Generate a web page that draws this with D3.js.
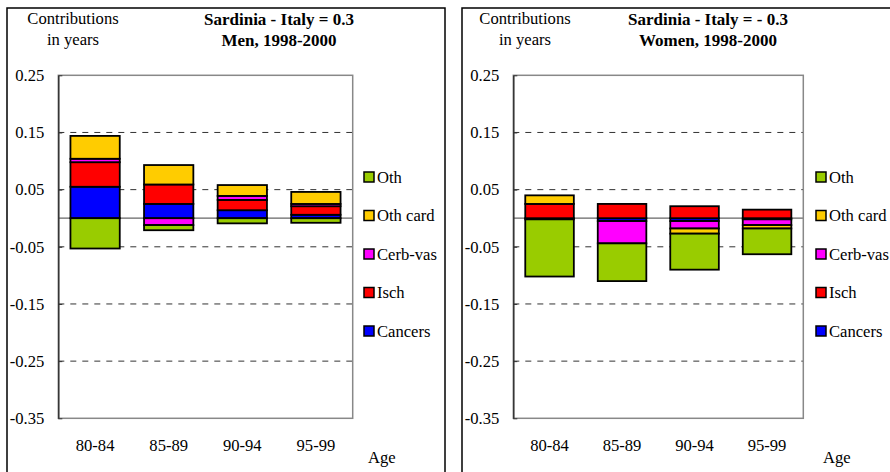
<!DOCTYPE html>
<html>
<head>
<meta charset="utf-8">
<script src="https://cdn.jsdelivr.net/npm/d3@7"></script>
<style>
  body { margin: 0; background: #fff; }
  svg text { font-family: "Liberation Serif", "Times New Roman", Times, "DejaVu Serif", serif !important; fill: #000; }
</style>
</head>
<body>
<div id="chart"></div>
<script>
const ages = ["80-84", "85-89", "90-94", "95-99"];
const causes = ["Cancers", "Isch", "Cerb-vas", "Oth card", "Oth"];
const legendOrder = ["Oth", "Oth card", "Cerb-vas", "Isch", "Cancers"];
const yTicks = [0.25, 0.15, 0.05, -0.05, -0.15, -0.25, -0.35];
const gridValues = [0.15, 0.05, -0.05, -0.15, -0.25];

// men, 1998-2000
const menCancers = [0.055, 0.025, 0.014, 0.006];
const menIsch = [0.043, 0.034, 0.018, 0.015];
const menCerbVas = [0.006, -0.012, 0.007, 0.004];
const menOthCard = [0.040, 0.034, 0.019, 0.021];
const menOth = [-0.053, -0.009, -0.009, -0.008];

// women, 1998-2000
const womenCancers = [-0.002, -0.005, -0.005, -0.002];
const womenIsch = [0.025, 0.025, 0.021, 0.015];
const womenCerbVas = [0, -0.039, -0.013, -0.010];
const womenOthCard = [0.015, 0, -0.009, -0.006];
const womenOth = [-0.100, -0.066, -0.063, -0.045];

const colors = {
  "Cancers": "#0000ff",
  "Isch": "#ff0000",
  "Cerb-vas": "#ff00ff",
  "Oth card": "#ffcc00",
  "Oth": "#99cc00"
};

function makeRows(c, i, cv, oc, o) {
  return ages.map((age, k) => ({
    age: age,
    "Cancers": c[k], "Isch": i[k], "Cerb-vas": cv[k], "Oth card": oc[k], "Oth": o[k]
  }));
}

const panels = [
  {
    rows: makeRows(menCancers, menIsch, menCerbVas, menOthCard, menOth),
    left: 7, plotX: [58.3, 352.7], contribX: 73, titleX: 279,
    title: ["Sardinia - Italy = 0.3", "Men, 1998-2000"],
    legendX: 364, ageX: 368
  },
  {
    rows: makeRows(womenCancers, womenIsch, womenCerbVas, womenOthCard, womenOth),
    left: 462, plotX: [513.3, 803.3], contribX: 525, titleX: 708,
    title: ["Sardinia - Italy = - 0.3", "Women, 1998-2000"],
    legendX: 816, ageX: 823
  }
];

const width = 890, height = 472;
const plotTop = 75.3, plotBottom = 418.3;
const fs = 16.6;

const svg = d3.select("#chart").append("svg")
  .attr("width", width)
  .attr("height", height);

svg.append("rect").attr("width", width).attr("height", height).attr("fill", "#fff");

const y = d3.scaleLinear().domain([-0.35, 0.25]).range([plotBottom, plotTop]);
const fmt = v => d3.format(".2f")(v).replace("\u2212", "-");

panels.forEach(p => {
  const g = svg.append("g");

  // outer frame (runs past the picture edge)
  g.append("rect")
    .attr("x", p.left).attr("y", 8)
    .attr("width", 438).attr("height", 500)
    .attr("fill", "none").attr("stroke", "#000").attr("stroke-width", 1.5);

  const x = d3.scaleBand().domain(ages).range(p.plotX)
    .paddingInner(0.33).paddingOuter(0.165);

  // headings
  g.append("text").attr("x", p.contribX).attr("y", 24)
    .attr("text-anchor", "middle").attr("font-size", fs).text("Contributions");
  g.append("text").attr("x", p.contribX).attr("y", 45)
    .attr("text-anchor", "middle").attr("font-size", fs).text("in years");
  g.append("text").attr("x", p.titleX).attr("y", 25)
    .attr("text-anchor", "middle").attr("font-size", 17).attr("font-weight", "bold").text(p.title[0]);
  g.append("text").attr("x", p.titleX).attr("y", 46)
    .attr("text-anchor", "middle").attr("font-size", 17).attr("font-weight", "bold").text(p.title[1]);

  // dashed grid
  g.selectAll(".grid").data(gridValues).enter().append("line")
    .attr("x1", p.plotX[0]).attr("x2", p.plotX[1])
    .attr("y1", d => y(d)).attr("y2", d => y(d))
    .attr("stroke", "#333").attr("stroke-width", 1)
    .attr("stroke-dasharray", "6,6");

  // zero line
  g.append("line")
    .attr("x1", p.plotX[0]).attr("x2", p.plotX[1])
    .attr("y1", y(0)).attr("y2", y(0))
    .attr("stroke", "#666").attr("stroke-width", 1.2);

  // stacked bars
  const series = d3.stack().keys(causes).offset(d3.stackOffsetDiverging)(p.rows);
  g.selectAll(".series").data(series).enter().append("g")
    .attr("fill", d => colors[d.key])
    .selectAll("rect")
    .data(d => d.filter(s => s[1] !== s[0]))
    .enter().append("rect")
    .attr("x", d => x(d.data.age))
    .attr("width", x.bandwidth())
    .attr("y", d => y(d[1]))
    .attr("height", d => y(d[0]) - y(d[1]))
    .attr("stroke", "#000").attr("stroke-width", 1.8);

  // plot frame
  g.append("rect")
    .attr("x", p.plotX[0]).attr("y", plotTop)
    .attr("width", p.plotX[1] - p.plotX[0]).attr("height", plotBottom - plotTop)
    .attr("fill", "none").attr("stroke", "#888").attr("stroke-width", 1.5);

  // y axis
  const ya = g.append("g")
    .attr("transform", `translate(${p.plotX[0]},0)`)
    .call(d3.axisLeft(y).tickValues(yTicks).tickFormat(fmt)
      .tickSizeInner(-4).tickSizeOuter(0).tickPadding(14));
  ya.select(".domain").attr("stroke", "#333").attr("stroke-width", 1.5);
  ya.selectAll(".tick line").attr("stroke", "#333");
  ya.selectAll(".tick text").attr("font-size", fs);

  // x axis labels
  const xa = g.append("g")
    .attr("transform", `translate(0,${plotBottom})`)
    .call(d3.axisBottom(x).tickSize(0).tickPadding(21));
  xa.select(".domain").remove();
  xa.selectAll(".tick text").attr("font-size", fs);

  g.append("text").attr("x", p.ageX).attr("y", 463)
    .attr("font-size", fs).text("Age");

  // legend
  const lg = g.selectAll(".legend").data(legendOrder).enter().append("g")
    .attr("transform", (d, i) => `translate(${p.legendX},${177 + i * 38.5})`);
  lg.append("rect")
    .attr("x", 0).attr("y", -5).attr("width", 10).attr("height", 10)
    .attr("fill", d => colors[d]).attr("stroke", "#000").attr("stroke-width", 1.5);
  lg.append("text")
    .attr("x", 13).attr("y", 5.5)
    .attr("font-size", fs).text(d => d);
});
</script>
</body>
</html>
